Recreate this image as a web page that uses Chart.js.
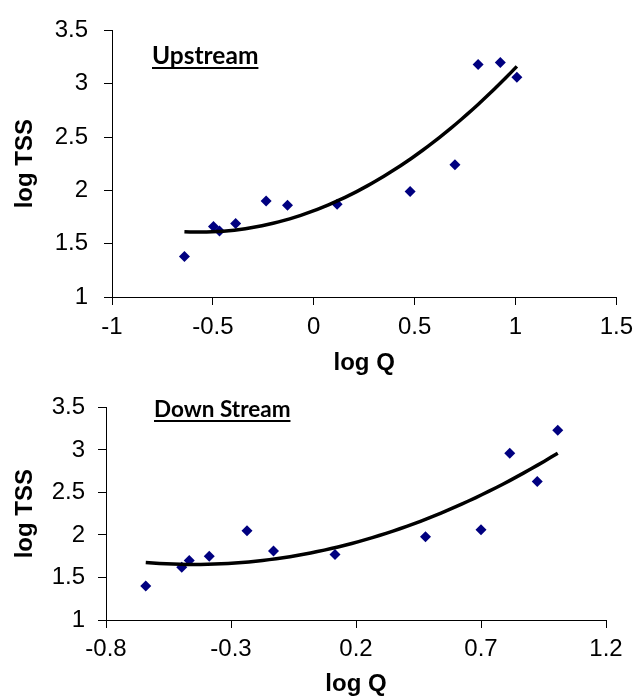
<!DOCTYPE html>
<html>
<head>
<meta charset="utf-8">
<script src="https://cdn.jsdelivr.net/npm/chart.js@4"></script>
<style>
  body { margin: 0; background: #fff; }
  #wrap { position: relative; width: 641px; height: 699px; background: #fff; }
  canvas { position: absolute; left: 0; }
</style>
</head>
<body>
<div id="wrap">
  <canvas id="up" width="641" height="380" style="top:0"></canvas>
  <canvas id="down" width="641" height="319" style="top:380px"></canvas>
</div>
<script>
// log Q (same discharge events at both stations)
const log_q = [-0.641, -0.497, -0.467, -0.387, -0.236, -0.130, 0.116, 0.478, 0.700, 0.815, 0.925, 1.007]
const upstream_tss = [1.38, 1.66, 1.62, 1.69, 1.90, 1.86, 1.87, 1.99, 2.24, 3.18, 3.20, 3.06]
const downstream_tss = [1.40, 1.62, 1.70, 1.75, 2.05, 1.81, 1.77, 1.98, 2.06, 2.96, 2.63, 3.23]

const up_x_ticks = [-1, -0.5, 0, 0.5, 1, 1.5]
const down_x_ticks = [-0.8, -0.3, 0.2, 0.7, 1.2]
const y_ticks = [1, 1.5, 2, 2.5, 3, 3.5]

Chart.defaults.font.family = "'Liberation Sans', Arial, sans-serif"
Chart.defaults.color = '#000'

// least squares 2nd order polynomial (like the excel trendline)
function quad_fit(xs, ys) {
	let s = [0, 0, 0, 0, 0], t = [0, 0, 0]
	xs.forEach((x, i) => {
		for (let k = 0; k < 5; k++) s[k] += Math.pow(x, k)
		for (let k = 0; k < 3; k++) t[k] += ys[i] * Math.pow(x, k)
	})
	let m = [[s[0], s[1], s[2], t[0]], [s[1], s[2], s[3], t[1]], [s[2], s[3], s[4], t[2]]]
	for (let i = 0; i < 3; i++) {
		for (let j = i + 1; j < 3; j++) {
			let f = m[j][i] / m[i][i]
			for (let k = i; k < 4; k++) m[j][k] -= f * m[i][k]
		}
	}
	let c = [0, 0, 0]
	for (let i = 2; i >= 0; i--) {
		let v = m[i][3]
		for (let k = i + 1; k < 3; k++) v -= m[i][k] * c[k]
		c[i] = v / m[i][i]
	}
	return c
}

function trend_points(xs, ys) {
	const c = quad_fit(xs, ys)
	const lo = Math.min(...xs), hi = Math.max(...xs)
	let pts = []
	for (let i = 0; i <= 60; i++) {
		let x = lo + (hi - lo) * i / 60
		pts.push({x: x, y: c[0] + c[1] * x + c[2] * x * x})
	}
	return pts
}

const label_plugin = {
	id: 'stationLabel',
	afterDraw(chart, args, opts) {
		const ctx = chart.ctx
		ctx.save()
		ctx.font = "bold " + opts.size + "px Lato, 'Open Sans', sans-serif"
		ctx.fillStyle = '#000'
		ctx.textBaseline = 'alphabetic'
		let w = ctx.measureText(opts.text).width
		ctx.fillText(opts.text, opts.x, opts.y)
		ctx.fillRect(opts.x, opts.y + 3, w, 2)
		ctx.restore()
	}
}

function construct_chart(canvas_id, ys, x_ticks, layout) {
	const pts = log_q.map((x, i) => ({x: x, y: ys[i]}))
	return new Chart(document.getElementById(canvas_id), {
		type: 'scatter',
		data: {
			datasets: [{
				label: 'trend',
				data: trend_points(log_q, ys),
				showLine: true,
				borderColor: '#000',
				borderWidth: 3.5,
				pointRadius: 0,
				tension: 0
			}, {
				label: 'data',
				data: pts,
				pointStyle: 'rectRot',
				pointRadius: 5.5,
				backgroundColor: '#000080',
				borderColor: '#000080',
				borderWidth: 0
			}]
		},
		options: {
			responsive: false,
			animation: false,
			layout: {padding: {top: layout.top, right: layout.right, left: 0, bottom: 0}},
			plugins: {
				legend: {display: false},
				tooltip: {enabled: false},
				stationLabel: layout.label
			},
			scales: {
				x: {
					type: 'linear',
					min: x_ticks[0],
					max: x_ticks[x_ticks.length - 1],
					afterBuildTicks: s => { s.ticks = x_ticks.map(v => ({value: v})) },
					afterFit: s => { s.height = layout.x_height },
					ticks: {font: {size: 24}, padding: layout.x_pad, maxRotation: 0, autoSkip: false, callback: v => String(v)},
					grid: {drawOnChartArea: false, drawTicks: true, tickLength: 8, color: '#000'},
					border: {color: '#000', width: 1},
					title: {display: true, text: 'log Q', font: {size: 24, weight: 'bold'}, padding: {top: 0, bottom: layout.x_title_pad}}
				},
				y: {
					type: 'linear',
					min: 1,
					max: 3.5,
					afterBuildTicks: s => { s.ticks = y_ticks.map(v => ({value: v})) },
					afterFit: s => { s.width = layout.y_width },
					ticks: {font: {size: 24}, padding: layout.y_pad, callback: v => String(v)},
					grid: {drawOnChartArea: false, drawTicks: true, tickLength: 8, color: '#000'},
					border: {color: '#000', width: 1},
					title: {display: true, text: 'log TSS', font: {size: 24, weight: 'bold'}, padding: {top: 11, bottom: 0}}
				}
			}
		},
		plugins: [label_plugin]
	})
}

construct_chart('up', upstream_tss, up_x_ticks, {
	top: 20, right: 18, x_height: 83, x_pad: 8, x_title_pad: 2, y_width: 112, y_pad: 16,
	label: {text: 'Upstream', x: 152, y: 64, size: 24.5}
})
construct_chart('down', downstream_tss, down_x_ticks, {
	top: 24, right: 35, x_height: 79, x_pad: 7, x_title_pad: 0, y_width: 106, y_pad: 13,
	label: {text: 'Down Stream', x: 154, y: 37, size: 22.5}
})
</script>
</body>
</html>
